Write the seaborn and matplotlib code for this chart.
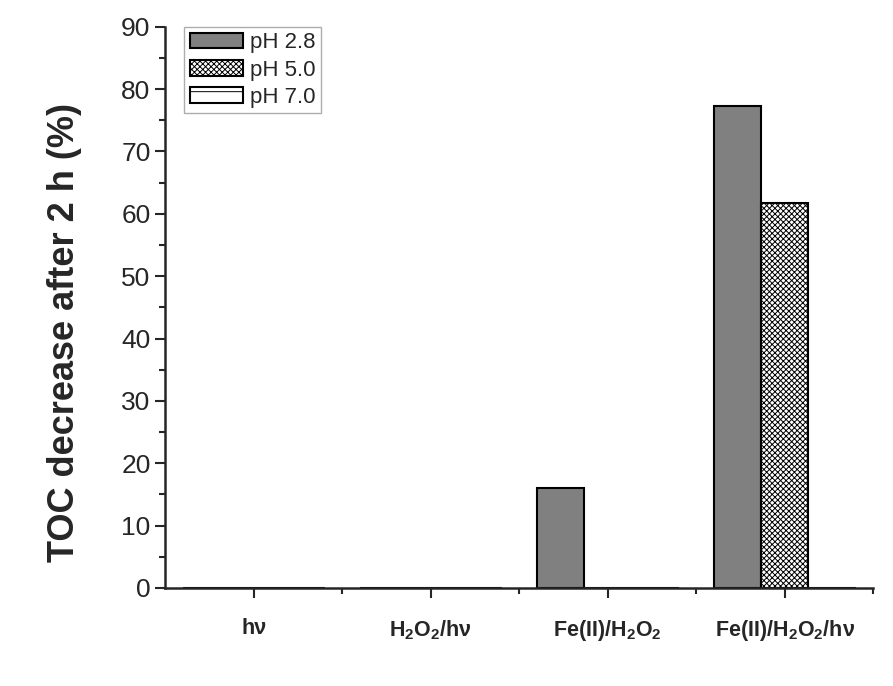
import pandas as pd
import matplotlib
matplotlib.use("Agg")
import matplotlib.pyplot as plt
import seaborn as sns
from matplotlib.ticker import MultipleLocator, FixedLocator
from matplotlib.patches import Patch

sns.set_style("ticks")
plt.rcParams.update({
    "font.family": ["Liberation Sans", "DejaVu Sans"],
    "mathtext.fontset": "custom",
    "mathtext.rm": "Liberation Sans:bold",
    "mathtext.it": "Liberation Sans:bold",
    "mathtext.bf": "Liberation Sans:bold",
    "mathtext.default": "rm",
    "hatch.linewidth": 0.7,
})

# datos
procesos = ["hv", "H2O2/hv", "Fe(II)/H2O2", "Fe(II)/H2O2/hv"]
etiquetas = ["hν", "H$_2$O$_2$/hν", "Fe(II)/H$_2$O$_2$", "Fe(II)/H$_2$O$_2$/hν"]
ph_28 = [0, 0, 16.0, 77.3]
ph_50 = [0, 0, 0, 61.7]
ph_70 = [0, 0, 0, 0]
grupos = ["pH 2.8", "pH 5.0", "pH 7.0"]

df = pd.DataFrame({
    "Proceso": procesos * 3,
    "TOC": ph_28 + ph_50 + ph_70,
    "pH": [g for g in grupos for _ in procesos],
})

fig = plt.figure(figsize=(8.93, 6.86), dpi=100)
ax = fig.add_axes([0.185, 0.143, 0.793, 0.818])

sns.barplot(data=df, x="Proceso", y="TOC", hue="pH", order=procesos,
            hue_order=grupos, ax=ax, width=0.8, legend=False,
            edgecolor="black", linewidth=1.5)

estilos = [("#808080", ""), ("white", "xxxxxx"), ("white", "-")]
for cont, (fc, h) in zip(ax.containers, estilos):
    for barra in cont:
        barra.set_facecolor(fc)
        barra.set_hatch(h)
        barra.set_edgecolor("black")

ax.set_xlim(-0.5, 3.5)
ax.set_ylim(0, 90)
ax.yaxis.set_major_locator(MultipleLocator(10))
ax.yaxis.set_minor_locator(MultipleLocator(5))
ax.xaxis.set_minor_locator(FixedLocator([0.5, 1.5, 2.5, 3.5]))
ax.set_xticks(range(4))
ax.set_xticklabels(etiquetas, fontsize=15.5, fontweight="bold")
ax.tick_params(axis="y", which="major", labelsize=19, length=7, width=1.5, direction="out")
ax.tick_params(axis="y", which="minor", length=4, width=1.5, direction="out")
ax.tick_params(axis="x", which="major", length=7, width=1.5, pad=15)
ax.tick_params(axis="x", which="minor", length=4, width=1.5)

ax.set_xlabel("")
ax.set_ylabel("TOC decrease after 2 h (%)", fontsize=26, fontweight="bold")
ax.yaxis.set_label_coords(-0.117, 0.455)

sns.despine(ax=ax)
for s in ["left", "bottom"]:
    ax.spines[s].set_linewidth(1.8)

handles = [Patch(facecolor=fc, edgecolor="black", hatch=h, linewidth=1.5)
           for fc, h in estilos]
leg = ax.legend(handles, grupos, loc="upper left", bbox_to_anchor=(0.027, 1.0),
                fontsize=16, frameon=True, fancybox=False, handlelength=2.4,
                handleheight=0.72, labelspacing=0.28, handletextpad=0.3,
                borderpad=0.25, borderaxespad=0)
leg.get_frame().set_edgecolor("#999999")
leg.get_frame().set_linewidth(1.0)

plt.savefig("out.png", dpi=100)
